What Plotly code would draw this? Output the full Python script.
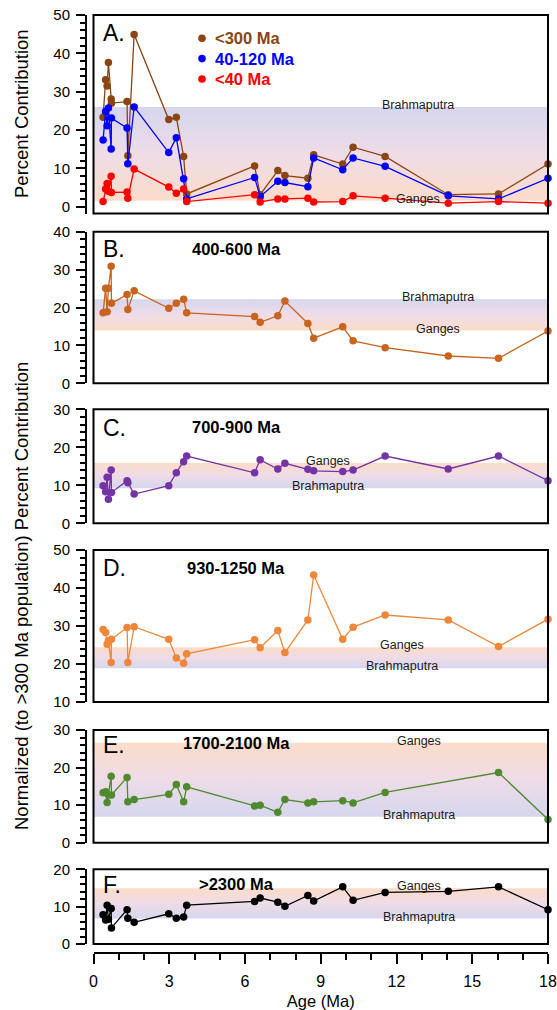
import plotly.graph_objects as go

# ---------------- data ----------------
ages = [0.38, 0.48, 0.54, 0.59, 0.70, 0.71, 1.33, 1.36, 1.61, 2.98, 3.28, 3.57, 3.69,
        6.38, 6.60, 7.30, 7.58, 8.49, 8.72, 9.87, 10.28, 11.55, 14.05, 16.04, 18.00]

a_lt300 = [23.3, 33.1, 31.5, 37.6, 28.1, 27.0, 27.4, 13.3, 44.9, 22.7, 23.3, 13.1, 3.3,
           10.6, 3.1, 9.4, 8.1, 7.4, 13.5, 11.1, 15.5, 13.1, 3.1, 3.3, 11.1]
a_40_120 = [17.4, 24.8, 21.1, 25.7, 15.0, 23.1, 20.5, 11.2, 26.0, 14.1, 18.0, 7.3, 2.0,
            7.6, 2.6, 6.6, 6.3, 5.2, 12.7, 9.6, 12.7, 10.5, 2.8, 2.0, 7.4]
a_lt40 = [1.3, 4.6, 6.0, 4.0, 7.9, 3.7, 3.8, 2.2, 9.8, 5.1, 3.5, 4.6, 1.3,
          3.1, 1.2, 2.0, 2.0, 2.2, 1.2, 1.3, 2.8, 2.2, 0.9, 1.3, 0.9]
b_400_600 = [18.6, 25.1, 18.9, 25.1, 30.9, 21.1, 23.4, 19.5, 24.4, 19.8, 21.1, 22.2, 18.6,
             17.6, 16.1, 17.8, 21.7, 15.8, 11.9, 14.9, 11.2, 9.4, 7.2, 6.6, 13.8]
c_700_900 = [9.9, 8.3, 12.1, 6.3, 14.0, 8.1, 11.2, 10.7, 7.7, 9.9, 13.3, 16.2, 17.7,
             13.3, 16.7, 14.3, 15.8, 14.2, 13.8, 13.6, 14.0, 17.7, 14.3, 17.7, 11.2]
d_930_1250 = [29.1, 28.3, 25.2, 26.1, 20.4, 26.5, 29.6, 20.4, 29.8, 26.5, 21.6, 20.2, 22.7,
              26.4, 24.3, 28.8, 23.0, 31.6, 43.4, 26.5, 29.7, 32.9, 31.6, 24.6, 31.8]
e_1700_2100 = [13.3, 13.6, 10.7, 12.7, 17.7, 12.7, 17.4, 10.9, 11.5, 12.9, 15.5, 10.9, 14.9,
               9.8, 10.0, 8.1, 11.5, 10.6, 10.9, 11.2, 10.6, 13.4, None, 18.7, 6.2]
f_gt2300 = [7.8, 6.4, 10.4, 6.6, 9.5, 4.3, 9.2, 6.9, 5.8, 8.1, 6.9, 7.2, 10.4,
            11.4, 12.3, 11.2, 10.1, 13.0, 11.5, 15.3, 11.7, 13.8, 14.1, 15.3, 9.2]

# river reference ranges per panel (lower, upper) and which end is Brahmaputra
band_low = [1.5, 13.9, 9.2, 18.9, 6.9, 6.8]
band_high = [26.0, 22.2, 15.9, 24.4, 26.6, 14.9]
brahmaputra_on_top = [True, True, False, False, False, False]
band_label_x = [12.85, 13.65, 9.3, 12.2, 12.9, 12.9]

panel_letters = ["A.", "B.", "C.", "D.", "E.", "F."]
panel_titles = [None, "400-600 Ma", "700-900 Ma", "930-1250 Ma", "1700-2100 Ma", "&gt;2300 Ma"]
y_ranges = [[-1.8, 50], [0, 40], [0, 30], [10, 50], [0, 30], [0, 20]]

series_a = [("&lt;300 Ma", a_lt300, "#8B4513"),
            ("40-120 Ma", a_40_120, "#0000FF"),
            ("&lt;40 Ma", a_lt40, "#FF0000")]
panel_series = [None,
                (b_400_600, "#C8641E"),
                (c_700_900, "#7434A4"),
                (d_930_1250, "#EF873A"),
                (e_1700_2100, "#4F8A2F"),
                (f_gt2300, "#000000")]

# ---------------- layout geometry ----------------
W, H = 557, 1010
L, R, T, B = 86, 9, 15, 57
PW, PH = W - L - R, H - T - B


def fx(px):
    return (px - L) / PW


def fy(py):
    return (H - B - py) / PH


boxes_px = [(15, 213.5), (231.7, 383.3), (409.3, 523.3), (550, 702), (730, 842.8), (869.3, 944)]
letter_y = [33.5, 248.7, 428, 568, 745, 885]
title_y = [None, 248.7, 427, 567.5, 743.3, 884]
legend_rows = [38.3, 58.6, 79.0]
x_dom = [fx(93.5), 1.0]

FONT = "Arial, 'Liberation Sans', Helvetica, sans-serif"
PEACH = "#FCDCCA"
MID = "#EEDCE7"
LAV = "#D6D6EE"

fig = go.Figure()
layout = dict(width=W, height=H, margin=dict(l=L, r=R, t=T, b=B, autoexpand=False),
              paper_bgcolor="white", plot_bgcolor="rgba(0,0,0,0)",
              font=dict(family=FONT, color="black"),
              showlegend=False)
annotations = []
shapes = []

for i in range(6):
    n = i + 1
    xa = "x" if n == 1 else f"x{n}"
    ya = "y" if n == 1 else f"y{n}"
    top_px, bot_px = boxes_px[i]

    xaxis = dict(domain=x_dom, range=[0, 18], showgrid=False, zeroline=False, automargin=False)
    if n < 6:
        xaxis.update(anchor=ya, visible=False)
    else:
        xaxis.update(anchor="free", position=0, showline=True, linecolor="black", linewidth=2,
                     ticks="outside", ticklen=10, tickwidth=2, tickcolor="black",
                     dtick=3, tick0=0, tickfont=dict(size=16), ticklabelstandoff=4,
                     ticklabeloverflow="allow",
                     minor=dict(dtick=1, tick0=0, ticks="outside", ticklen=6, tickwidth=2,
                                tickcolor="black"),
                     title=dict(text="Age (Ma)", font=dict(size=16.5), standoff=8))
    layout["xaxis" if n == 1 else f"xaxis{n}"] = xaxis

    layout["yaxis" if n == 1 else f"yaxis{n}"] = dict(
        domain=[fy(bot_px), fy(top_px)], range=y_ranges[i], anchor="free", position=0,
        automargin=False,
        showline=True, linecolor="black", linewidth=2, showgrid=False, zeroline=False,
        ticks="outside", ticklen=9, tickwidth=2, tickcolor="black", dtick=10, tick0=0,
        tickfont=dict(size=15), ticklabelstandoff=3,
        minor=dict(dtick=2, tick0=0, ticks="outside", ticklen=5.5, tickwidth=2, tickcolor="black"))

    # river reference band with vertical gradient
    lo, hi = band_low[i], band_high[i]
    if brahmaputra_on_top[i]:
        cs = [[0, PEACH], [0.5, MID], [1, LAV]]
    else:
        cs = [[0, LAV], [0.5, MID], [1, PEACH]]
    fig.add_trace(go.Scatter(x=[0, 18, 18, 0, 0], y=[lo, lo, hi, hi, lo], xaxis=xa, yaxis=ya,
                             mode="lines", line=dict(width=0), fill="toself",
                             fillgradient=dict(type="vertical", colorscale=cs, start=lo, stop=hi),
                             hoverinfo="skip", showlegend=False))

    top_name = "Brahmaputra" if brahmaputra_on_top[i] else "Ganges"
    bot_name = "Ganges" if brahmaputra_on_top[i] else "Brahmaputra"
    for name, yv in ((top_name, hi), (bot_name, lo)):
        annotations.append(dict(x=band_label_x[i], y=yv, xref=xa, yref=ya, text=name,
                                showarrow=False, yshift=2, xanchor="center", yanchor="middle",
                                font=dict(size=12.5, color="#1a1a1a")))

    # data
    if n == 1:
        for name, vals, col in series_a:
            fig.add_trace(go.Scatter(x=ages, y=vals, xaxis=xa, yaxis=ya, mode="lines+markers",
                                     line=dict(color=col, width=1.3),
                                     marker=dict(color=col, size=7.5),
                                     cliponaxis=False, showlegend=False, connectgaps=True))
        # legend (symbol + coloured bold label)
        for (name, vals, col), ry in zip(series_a, legend_rows):
            shapes.append(dict(type="circle", xref="paper", yref="paper",
                               x0=fx(202 - 3.8), x1=fx(202 + 3.8),
                               y0=fy(ry + 3.8), y1=fy(ry - 3.8),
                               fillcolor=col, line=dict(width=0), layer="above"))
            annotations.append(dict(x=fx(213), y=fy(ry), xref="paper", yref="paper",
                                    text=f"<b>{name}</b>", showarrow=False, xanchor="left",
                                    yanchor="middle", font=dict(size=16.5, color=col)))
    else:
        vals, col = panel_series[i]
        fig.add_trace(go.Scatter(x=ages, y=vals, xaxis=xa, yaxis=ya, mode="lines+markers",
                                 line=dict(color=col, width=1.3),
                                 marker=dict(color=col, size=7.5),
                                 cliponaxis=False, showlegend=False, connectgaps=True))

    # panel frame
    shapes.append(dict(type="rect", xref=f"{xa} domain", yref=f"{ya} domain",
                       x0=0, x1=1, y0=0, y1=1, line=dict(color="black", width=2), layer="above"))

    annotations.append(dict(x=fx(100.5), y=fy(letter_y[i]), xref="paper", yref="paper",
                            text=panel_letters[i], showarrow=False, xanchor="left",
                            yanchor="middle", font=dict(size=23)))
    if panel_titles[i]:
        annotations.append(dict(x=fx(236), y=fy(title_y[i]), xref="paper", yref="paper",
                                text=f"<b>{panel_titles[i]}</b>", showarrow=False,
                                xanchor="center", yanchor="middle", font=dict(size=16.5)))

annotations.append(dict(x=fx(21), y=fy(114), xref="paper", yref="paper",
                        text="Percent Contribution", textangle=-90, showarrow=False,
                        xanchor="center", yanchor="middle", font=dict(size=18.5)))
annotations.append(dict(x=fx(21), y=fy(596), xref="paper", yref="paper",
                        text="Normalized (to &gt;300 Ma population) Percent Contribution",
                        textangle=-90, showarrow=False,
                        xanchor="center", yanchor="middle", font=dict(size=18.5)))

layout["annotations"] = annotations
layout["shapes"] = shapes
fig.update_layout(**layout)
fig.write_html("out.html", config={"displayModeBar": False},
               post_script="document.body.style.margin='0';document.body.style.overflow='hidden';")
